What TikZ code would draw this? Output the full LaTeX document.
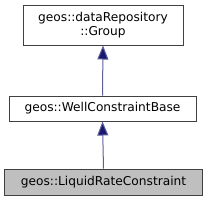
\documentclass[tikz,border=0pt]{standalone}
\usepackage{fontspec}
\setmainfont{DejaVu Sans}
\usetikzlibrary{arrows.meta}
\definecolor{edgeblue}{HTML}{191970}
\definecolor{boxline}{HTML}{404040}
\definecolor{boxgray}{HTML}{BFBFBF}
\tikzset{
  cls/.style={draw=boxline, line width=1pt, fill=white, inner sep=0pt, font=\fontsize{12.2}{14.5}\selectfont, align=center},
  inh/.style={draw=edgeblue!70!white, line width=1pt, -{Triangle[length=14pt,width=11pt,fill=edgeblue]}}
}
\begin{document}
\begin{tikzpicture}[x=1pt,y=-1pt]
\useasboundingbox (0,0) rectangle (208,201);
\node[cls, minimum width=160pt, minimum height=40pt] (grp) at (103,25) {geos::dataRepository\\::Group};
\node[cls, minimum width=187pt, minimum height=25pt] (wcb) at (102.5,108.5) {geos::WellConstraintBase};
\node[cls, fill=boxgray, minimum width=198pt, minimum height=26pt] (lrc) at (103.5,182) {geos::LiquidRateConstraint};
\draw[inh] (wcb.north) -- (grp.south);
\draw[inh] (lrc.north) -- (wcb.south);
\end{tikzpicture}
\end{document}
